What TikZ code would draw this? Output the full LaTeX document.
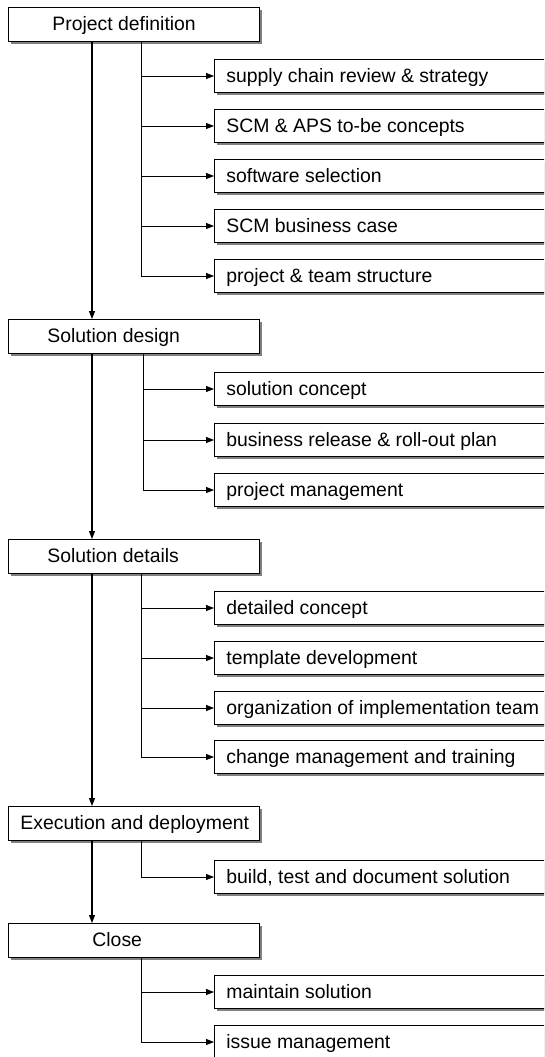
\documentclass[tikz,border=0pt]{standalone}
\usepackage{fontspec}
\setmainfont{Liberation Sans}
\usetikzlibrary{arrows.meta,shadows}
\newcommand{\bxt}[3]{\makebox[#2pt][l]{\hspace*{#1pt}#3}}
\begin{document}
\begin{tikzpicture}[x=1pt,y=-1pt,
  font=\fontsize{19.4}{22}\selectfont,
  phase/.style={draw, line width=0.8pt, fill=white, inner xsep=0pt, inner ysep=0pt,
    minimum height=34pt, text height=14pt, text depth=1pt, anchor=north west,
    drop shadow={shadow xshift=2.5pt, shadow yshift=-2.5pt, fill=black!50, opacity=1}},
  task/.style={phase, minimum height=33pt, anchor=west},
  mainline/.style={line width=1.3pt, -{Triangle[length=8pt,width=6pt]}},
  branch/.style={line width=0.8pt, -{Triangle[length=8pt,width=6pt]}},
]
\useasboundingbox (0,0) rectangle (544,1057);
\clip (0,0) rectangle (544,1057);
\fill[white] (0,0) rectangle (544,1057);

\coordinate (m) at (92,0);
\coordinate (b) at (141,0);
\coordinate (bb) at (143,0);

% phases
\node[phase] (pd) at (8,7) {\bxt{44}{251}{Project definition}};
\node[phase] (sd) at (8,319) {\bxt{39}{251}{Solution design}};
\node[phase] (st) at (8,539) {\bxt{39}{251}{Solution details}};
\node[phase] (ed) at (8,806) {\bxt{12}{251}{Execution and deployment}};
\node[phase] (cl) at (8,923) {\bxt{84}{251}{Close}};

% tasks
\node[task] (t11) at (214,76) {\bxt{12}{346}{supply chain review \& strategy}};
\node[task] (t12) at (214,126) {\bxt{12}{346}{SCM \& APS to-be concepts}};
\node[task] (t13) at (214,176) {\bxt{12}{346}{software selection}};
\node[task] (t14) at (214,226) {\bxt{12}{346}{SCM business case}};
\node[task] (t15) at (214,276) {\bxt{12}{346}{project \& team structure}};
\node[task] (t21) at (214,389) {\bxt{12}{346}{solution concept}};
\node[task] (t22) at (214,440) {\bxt{12}{346}{business release \& roll-out plan}};
\node[task] (t23) at (214,490) {\bxt{12}{346}{project management}};
\node[task] (t31) at (214,608) {\bxt{12}{346}{detailed concept}};
\node[task] (t32) at (214,658) {\bxt{12}{346}{template development}};
\node[task] (t33) at (214,708) {\bxt{12}{346}{organization of implementation team}};
\node[task] (t34) at (214,757) {\bxt{12}{346}{change management and training}};
\node[task] (t41) at (214,877) {\bxt{12}{346}{build, test and document solution}};
\node[task] (t51) at (214,992) {\bxt{12}{346}{maintain solution}};
\node[task] (t52) at (214,1042) {\bxt{12}{346}{issue management}};

% main flow
\draw[mainline] (pd.south -| m) -- (sd.north -| m);
\draw[mainline] (sd.south -| m) -- (st.north -| m);
\draw[mainline] (st.south -| m) -- (ed.north -| m);
\draw[mainline] (ed.south -| m) -- (cl.north -| m);

% branches
\foreach \t in {t11,t12,t13,t14,t15}
  \draw[branch] (pd.south -| b) |- (\t.west);
\foreach \t in {t21,t22,t23}
  \draw[branch] (sd.south -| bb) |- (\t.west);
\foreach \t in {t31,t32,t33,t34}
  \draw[branch] (st.south -| b) |- (\t.west);
\draw[branch] (ed.south -| b) |- (t41.west);
\foreach \t in {t51,t52}
  \draw[branch] (cl.south -| b) |- (\t.west);
\end{tikzpicture}
\end{document}
